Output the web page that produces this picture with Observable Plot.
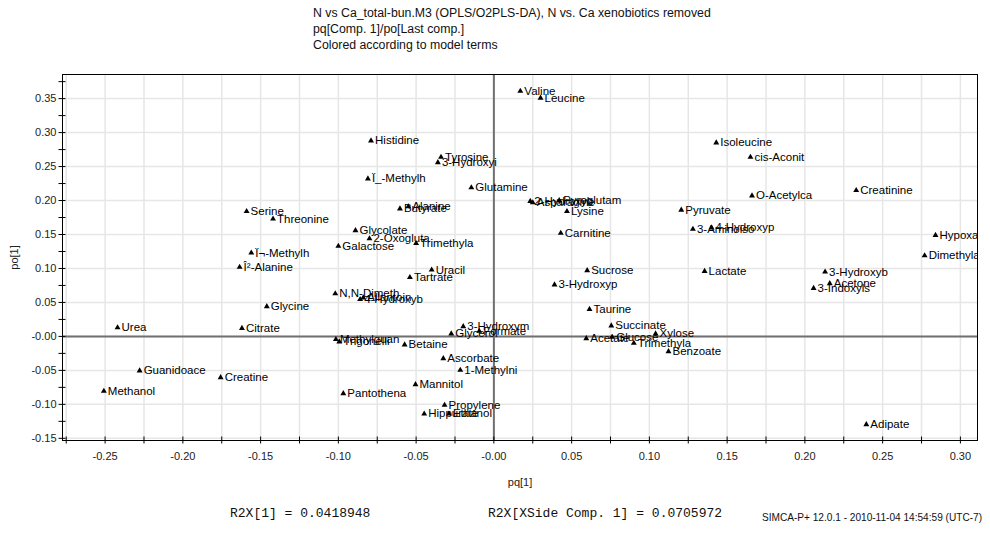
<!DOCTYPE html>
<html>
<head>
<meta charset="utf-8">
<script src="https://cdn.jsdelivr.net/npm/d3@7"></script>
<script src="https://cdn.jsdelivr.net/npm/@observablehq/plot@0.6"></script>
<style>
  html, body { margin: 0; padding: 0; background: #fff; }
  #wrap { position: relative; width: 990px; height: 535px; overflow: hidden; background: #fff; }
  #wrap svg { position: absolute; left: 0; top: 0; }
  .title { position: absolute; left: 313px; top: 5px; font: 12.3px "Liberation Sans", Arial, sans-serif; line-height: 16px; color: #111; white-space: nowrap; }
  .r2x { position: absolute; top: 506px; font: 13px "Liberation Mono", "Courier New", monospace; color: #111; white-space: nowrap; }
  .stamp { position: absolute; left: 762px; top: 512px; font: 10.1px "Liberation Sans", Arial, sans-serif; color: #111; white-space: nowrap; }
</style>
</head>
<body>
<div id="wrap">
  <div class="title">N vs Ca_total-bun.M3 (OPLS/O2PLS-DA), N vs. Ca xenobiotics removed<br>pq[Comp. 1]/po[Last comp.]<br>Colored according to model terms</div>
  <div class="r2x" style="left:230px">R2X[1] = 0.0418948</div>
  <div class="r2x" style="left:488px">R2X[XSide Comp. 1] = 0.0705972</div>
  <div class="stamp">SIMCA-P+ 12.0.1 - 2010-11-04 14:54:59 (UTC-7)</div>
</div>
<script>
// Variable names (truncated as in the model output)
const names = [
  "Valine", "Leucine", "Histidine", "Tyrosine", "3-Hydroxyi", "Ï_-Methylh",
  "Glutamine", "2-Hydroxyb", "Asparagine", "Pyroglutam", "Isoleucine", "cis-Aconit",
  "Creatinine", "O-Acetylca", "Pyruvate", "Serine", "Threonine", "Butyrate",
  "Alanine", "Lysine", "Glycolate", "2-Oxogluta", "Trimethyla", "Galactose",
  "Carnitine", "3-Aminoiso", "4-Hydroxyp", "Hypoxanthi", "Dimethylam", "Ï¬-Methylh",
  "Î²-Alanine", "Uracil", "Tartrate", "Sucrose", "Lactate", "3-Hydroxyb",
  "Acetone", "3-Indoxyls", "3-Hydroxyp", "N,N-Dimeth", "4-Hydroxyb", "Allantoin",
  "Glycine", "Taurine", "Urea", "Citrate", "3-Hydroxym", "Glycerol",
  "Formate", "Succinate", "Xylose", "Acetate", "Glucose", "Trimethyla",
  "Benzoate", "Methylguan", "Trigonelli", "Betaine", "Ascorbate", "1-Methylni",
  "Guanidoace", "Creatine", "Mannitol", "Methanol", "Pantothena", "Propylene",
  "Hippurate", "Ethanol", "Adipate"
];

// Predictive loading pq[1]
const pq = [
  0.017, 0.030, -0.079, -0.034, -0.036, -0.081,
  -0.0145, 0.0234, 0.025, 0.042, 0.143, 0.165,
  0.233, 0.166, 0.1205, -0.159, -0.142, -0.0604,
  -0.055, 0.047, -0.089, -0.080, -0.050, -0.100,
  0.043, 0.128, 0.140, 0.284, 0.277, -0.156,
  -0.1635, -0.040, -0.054, 0.060, 0.1355, 0.213,
  0.216, 0.2056, 0.039, -0.102, -0.086, -0.084,
  -0.146, 0.0615, -0.242, -0.162, -0.0197, -0.0274,
  -0.0094, 0.0755, 0.104, 0.0594, 0.0761, 0.090,
  0.1123, -0.1016, -0.0994, -0.0574, -0.0325, -0.0216,
  -0.2278, -0.1757, -0.0504, -0.2508, -0.0968, -0.0317,
  -0.0448, -0.0289, 0.2395
];

// Orthogonal loading po[1]
const po = [
  0.361, 0.351, 0.288, 0.264, 0.256, 0.232,
  0.219, 0.199, 0.197, 0.200, 0.285, 0.264,
  0.215, 0.207, 0.186, 0.184, 0.173, 0.188,
  0.191, 0.184, 0.156, 0.144, 0.137, 0.133,
  0.152, 0.158, 0.160, 0.149, 0.119, 0.123,
  0.102, 0.098, 0.087, 0.097, 0.096, 0.095,
  0.078, 0.071, 0.076, 0.063, 0.0545, 0.057,
  0.044, 0.040, 0.013, 0.012, 0.0147, 0.004,
  0.0078, 0.0157, 0.004, -0.003, -0.001, -0.0098,
  -0.0221, -0.0044, -0.0078, -0.0123, -0.0324, -0.0496,
  -0.0505, -0.0604, -0.0707, -0.0805, -0.084, -0.1011,
  -0.1139, -0.1139, -0.1296
];

// Axis ticks and their labels
const xTicks = [-0.25, -0.20, -0.15, -0.10, -0.05, 0, 0.05, 0.10, 0.15, 0.20, 0.25, 0.30];
const xTickLabels = ["-0.25", "-0.20", "-0.15", "-0.10", "-0.05", "-0.00", "0.05", "0.10", "0.15", "0.20", "0.25", "0.30"];
const yTicks = [-0.15, -0.10, -0.05, 0, 0.05, 0.10, 0.15, 0.20, 0.25, 0.30, 0.35];
const yTickLabels = ["-0.15", "-0.10", "-0.05", "-0.00", "0.05", "0.10", "0.15", "0.20", "0.25", "0.30", "0.35"];
const xMinor = [-0.275, -0.25, -0.225, -0.20, -0.175, -0.15, -0.125, -0.10, -0.075, -0.05, -0.025, 0,
  0.025, 0.05, 0.075, 0.10, 0.125, 0.15, 0.175, 0.20, 0.225, 0.25, 0.275, 0.30];
const yMinor = [-0.15, -0.125, -0.10, -0.075, -0.05, -0.025, 0, 0.025, 0.05, 0.075, 0.10, 0.125,
  0.15, 0.175, 0.20, 0.225, 0.25, 0.275, 0.30, 0.325, 0.35, 0.375];

const loadings = names.map((name, i) => ({name, pq: pq[i], po: po[i]}));

const chart = Plot.plot({
  width: 990,
  height: 535,
  marginLeft: 62,
  marginRight: 13,
  marginTop: 74,
  marginBottom: 95,
  x: {domain: [-0.2774, 0.311], axis: null},
  y: {domain: [-0.1532, 0.3855], axis: null},
  style: {fontFamily: "'Liberation Sans', Arial, sans-serif", fontSize: "11px", background: "white", color: "black"},
  marks: [
    Plot.gridX(xMinor, {stroke: "#e6e6e6", strokeOpacity: 1, strokeWidth: 1.5}),
    Plot.gridY(yTicks, {stroke: "#e6e6e6", strokeOpacity: 1, strokeWidth: 1.5}),
    Plot.ruleX([0], {stroke: "#707070", strokeWidth: 2}),
    Plot.ruleY([0], {stroke: "#707070", strokeWidth: 2}),
    Plot.frame({stroke: "black"}),
    // tick marks crossing the axis lines
    Plot.axisX(xMinor, {anchor: "bottom", tickSize: 7, dy: -3.5, fill: "none", stroke: "black", label: null}),
    Plot.axisY(yMinor, {anchor: "left", tickSize: 7, dx: 3.5, fill: "none", stroke: "black", label: null}),
    // tick labels and axis titles
    Plot.axisX(xTicks, {
      anchor: "bottom", tickSize: 0, tickPadding: 12, fill: "#222",
      tickFormat: (d, i) => xTickLabels[i],
      label: "pq[1]", labelAnchor: "center", labelOffset: 45, labelArrow: "none"
    }),
    Plot.axisY(yTicks, {
      anchor: "left", tickSize: 0, tickPadding: 6, fill: "#222",
      tickFormat: (d, i) => yTickLabels[i],
      label: "po[1]", labelAnchor: "center", labelOffset: 52, labelArrow: "none"
    }),
    Plot.dot(loadings, {x: "pq", y: "po", symbol: "triangle", r: 2.2, fill: "black", stroke: "none"}),
    Plot.text(loadings, {x: "pq", y: "po", text: "name", dx: 4, textAnchor: "start", fill: "black", fontSize: 11.5, clip: true})
  ]
});

document.getElementById("wrap").prepend(chart);
</script>
</body>
</html>
